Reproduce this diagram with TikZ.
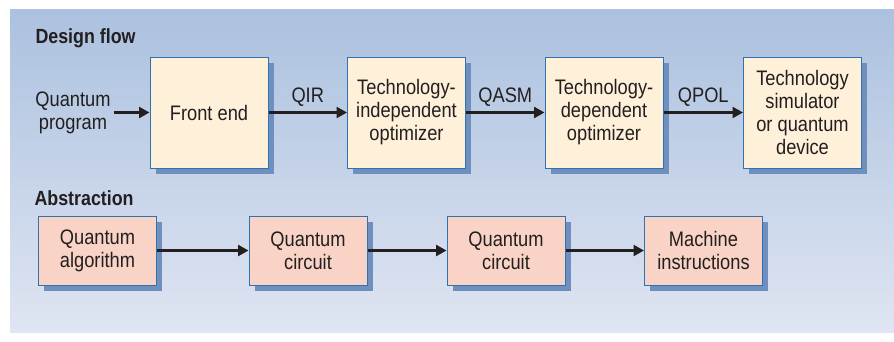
\documentclass[tikz,border=0pt]{standalone}
\usepackage{fontspec}
\setmainfont{Liberation Sans}[FakeStretch=0.87]
\usetikzlibrary{shapes,arrows.meta,positioning,shadows,calc}

\definecolor{bgtop}{HTML}{ABC1DF}
\definecolor{bgbot}{HTML}{DFE5F2}
\definecolor{boxline}{HTML}{2F72B0}
\definecolor{shadowblue}{HTML}{6F90BE}
\definecolor{creamfill}{HTML}{FFF0D9}
\definecolor{pinkfill}{HTML}{F8D3C6}
\definecolor{inkdark}{HTML}{231F20}

\begin{document}
\begin{tikzpicture}[x=1pt, y=-1pt,
    every node/.style={text=inkdark, font=\fontsize{21}{23}\selectfont},
    stagebox/.style={rectangle, draw=boxline, line width=1pt, align=center, inner sep=0pt,
        drop shadow={shadow xshift=5.5pt, shadow yshift=-5.5pt, fill=shadowblue, opacity=1}},
    flowbox/.style={stagebox, fill=creamfill, minimum width=118pt, minimum height=111pt},
    absbox/.style={stagebox, fill=pinkfill, minimum width=118pt, minimum height=69pt},
    heading/.style={anchor=west, font=\fontsize{20.5}{22}\selectfont\bfseries},
    flow/.style={-{Triangle[length=10.5pt, width=11pt]}, line width=2.4pt, draw=inkdark}]
    \useasboundingbox (0,0) rectangle (894,341);
    \shade[top color=bgtop, bottom color=bgbot] (10,9) rectangle (894,332);

    % design flow
    \node[heading] (designlbl) at (32,38) {Design flow};
    \node[align=center] (qprog) at (73,112.5) {Quantum\\program};
    \node[flowbox] (front) at (209,112.5) {Front end};
    \node[flowbox] (tindep) at (406.5,112.5) {Technology-\\independent\\optimizer};
    \node[flowbox] (tdep) at (604,112.5) {Technology-\\dependent\\optimizer};
    \node[flowbox] (device) at (802.5,112.5) {Technology\\simulator\\or quantum\\device};

    \draw[flow] (qprog) -- (front);
    \draw[flow] (front) -- (tindep) node[midway, above=2pt] {QIR};
    \draw[flow] (tindep) -- (tdep) node[midway, above=2pt] {QASM};
    \draw[flow] (tdep) -- (device) node[midway, above=2pt] {QPOL};

    % abstraction
    \node[heading] (abslbl) at (31,198) {Abstraction};
    \node[absbox] (algo) at (97.5,250.5) {Quantum\\algorithm};
    \node[absbox] (circ1) at (308,250.5) {Quantum\\circuit};
    \node[absbox] (circ2) at (506,250.5) {Quantum\\circuit};
    \node[absbox] (instr) at (703.5,250.5) {Machine\\instructions};

    \draw[flow] (algo) -- (circ1);
    \draw[flow] (circ1) -- (circ2);
    \draw[flow] (circ2) -- (instr);
\end{tikzpicture}
\end{document}
